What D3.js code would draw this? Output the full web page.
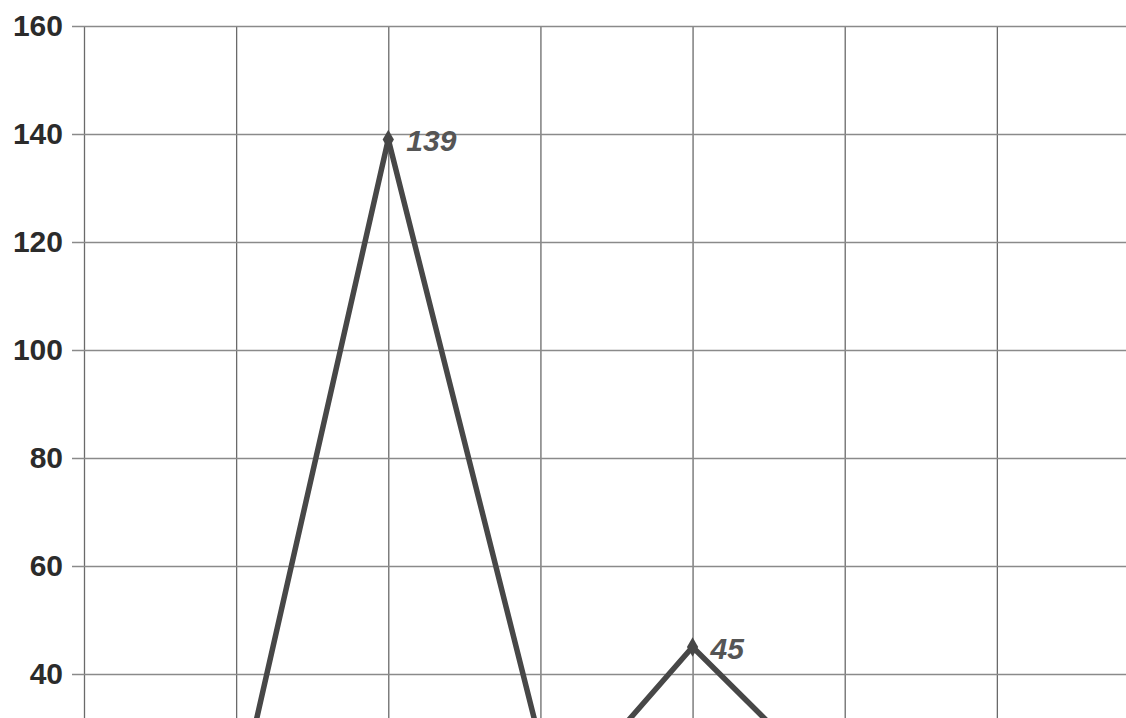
<!DOCTYPE html>
<html lang="en">
<head>
    <meta charset="utf-8">
    <script src="https://d3js.org/d3.v7.min.js"></script>
    <style>
        body {margin: 0; background: #fff;}
        svg {display: block; font-family: "Liberation Sans", Arial, sans-serif;}
    </style>
</head>
<body>
    <svg id="chart" width="1126" height="718"></svg>

    <script>
        // data (x = position in grid columns, the page only shows the top part of the chart)
        const xPos = [1, 2, 3.1, 4, 5];
        const values = [15, 139, 16, 45, 17];
        const labelled = [false, true, false, true, false];
        const yTicks = [40, 60, 80, 100, 120, 140, 160];
        const xGrid = [0, 1, 2, 3, 4, 5, 6, 7];

        const svg = d3.select("#chart"),
            width = +svg.attr("width"),
            height = +svg.attr("height");

        const x = d3.scaleLinear().domain([0, 7]).range([84, 1149]);
        const y = d3.scaleLinear().domain([0, 160]).range([890, 26]);

        // vertical grid
        svg.append("g")
            .attr("transform", "translate(0,26)")
            .call(d3.axisBottom(x).tickValues(xGrid).tickSize(y(0) - 26).tickFormat(""))
            .call(g => g.select(".domain").remove())
            .call(g => g.selectAll("line").attr("stroke", "#6a6a6a").attr("stroke-width", 1.3));

        // horizontal grid + labels
        svg.append("g")
            .attr("transform", "translate(72,0)")
            .call(d3.axisLeft(y).tickValues(yTicks).tickSize(-(width - 72)).tickPadding(9))
            .call(g => g.select(".domain").remove())
            .call(g => g.selectAll("line").attr("stroke", "#8a8a8a").attr("stroke-width", 1.3))
            .call(g => g.selectAll("text")
                .attr("fill", "#2b2b2b")
                .style("font-size", "30px")
                .style("font-weight", "bold"));

        const pts = xPos.map((d, i) => ({x: d, v: values[i], lab: labelled[i]}));

        svg.append("path")
            .datum(pts)
            .attr("fill", "none")
            .attr("stroke", "#474747")
            .attr("stroke-width", 5.5)
            .attr("stroke-linejoin", "miter")
            .attr("d", d3.line().x(d => x(d.x)).y(d => y(d.v)));

        svg.append("g")
            .selectAll("path")
            .data(pts)
            .join("path")
            .attr("transform", d => `translate(${x(d.x)},${y(d.v)})`)
            .attr("d", d3.symbol(d3.symbolDiamond, 110))
            .attr("fill", "#474747");

        svg.append("g")
            .selectAll("text")
            .data(pts.filter(d => d.lab))
            .join("text")
            .attr("x", d => x(d.x) + 18)
            .attr("y", d => y(d.v) + 12)
            .attr("fill", "#555")
            .style("font-size", "30px")
            .style("font-weight", "bold")
            .style("font-style", "italic")
            .text(d => d.v);
    </script>
</body>
</html>
